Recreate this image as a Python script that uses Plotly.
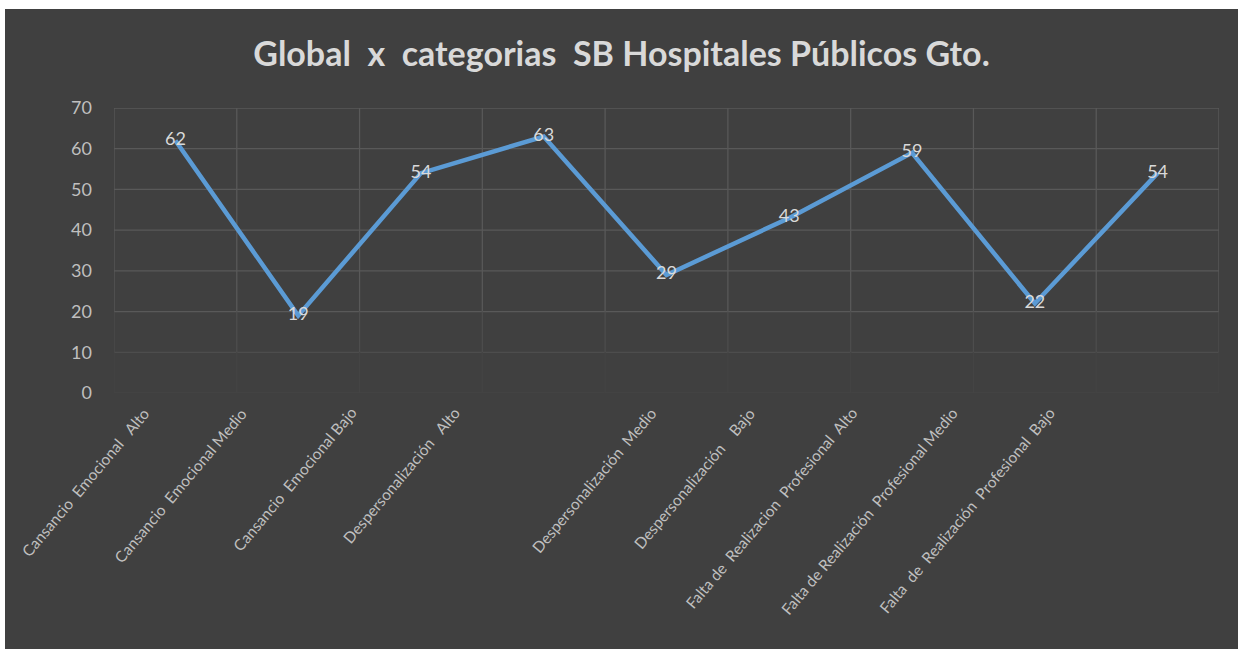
import plotly.graph_objects as go

categorias = [
    "Cansancio  Emocional   Alto",
    "Cansancio  Emocional Medio",
    "Cansancio  Emocional Bajo",
    "Despersonalización   Alto",
    "Despersonalización  Medio",
    "Despersonalización    Bajo",
    "Falta de  Realizacion  Profesional  Alto",
    "Falta de Realización  Profesional Medio",
    "Falta  de  Realización  Profesional  Bajo",
]
valores = [62, 19, 54, 63, 29, 43, 59, 22, 54]
y_ticks = [0, 10, 20, 30, 40, 50, 60, 70]

# horizontal nudge of each rotated category label (px), as in the original
label_shift = [-20, -45, -58, -77, -4, -28, -49, -71, -96]

bg = "#404040"
txt = "#bfbfbf"
grid = "#595959"

fig = go.Figure()
fig.add_trace(go.Scatter(
    x=categorias, y=valores, mode="lines+text",
    line=dict(color="#5b9bd5", width=4.5),
    text=[str(v) for v in valores], textposition="middle center",
    textfont=dict(size=18, color="#d9d9d9"),
    cliponaxis=False, hoverinfo="skip",
))

# gridlines fading out towards the bottom
def grid_col(v):
    if v >= 20:
        return grid
    return "#4d4d4d" if v >= 10 else "#444444"

shapes = []
for v in y_ticks:
    shapes.append(dict(type="line", xref="paper", yref="y", x0=0, x1=1, y0=v, y1=v,
                       line=dict(color=grid_col(v), width=1.3), layer="below"))
for k in range(len(categorias) + 1):
    for y0, y1 in [(20, 70), (10, 20), (0, 10)]:
        shapes.append(dict(type="line", xref="x", yref="y", x0=k - 0.5, x1=k - 0.5,
                           y0=y0, y1=y1, line=dict(color=grid_col(y0), width=1.3),
                           layer="below"))
fig.update_layout(shapes=shapes)

for cat, dx in zip(categorias, label_shift):
    fig.add_annotation(x=cat, y=0, xref="x", yref="y", text=cat, showarrow=False,
                       textangle=-50, xanchor="right", yanchor="top",
                       xshift=dx, yshift=-8, font=dict(size=15.5, color=txt))

fig.update_layout(
    width=1233, height=640,
    margin=dict(l=109, r=19, t=99, b=256),
    paper_bgcolor=bg, plot_bgcolor=bg,
    font=dict(family="Lato, Open Sans, sans-serif", color=txt),
    showlegend=False,
    title=dict(text="<b>Global  x  categorias  SB Hospitales Públicos Gto.</b>",
               x=0.5, xref="container", xanchor="center",
               y=1 - 45 / 640, yref="container", yanchor="middle",
               font=dict(size=34, color="#d9d9d9")),
)
fig.update_xaxes(
    type="category", showticklabels=False,
    showgrid=False, showline=False, ticks="", range=[-0.5, 8.5],
)
fig.update_yaxes(
    range=[0, 70], tickvals=y_ticks, tickfont=dict(size=18, color=txt),
    showgrid=False, zeroline=False, showline=False,
    ticklabelstandoff=21,
)

# thin white frame of the original: left 5px, top 9px; dark page elsewhere
page_css = (
    "var h=document.documentElement, b=document.body;"
    "h.style.background='" + bg + "'; h.style.overflow='hidden';"
    "b.style.margin='0'; b.style.overflow='hidden'; b.style.background='" + bg + "';"
    "b.style.borderLeft='5px solid white'; b.style.borderTop='9px solid white';"
)
fig.write_html("out.html", post_script=page_css)
